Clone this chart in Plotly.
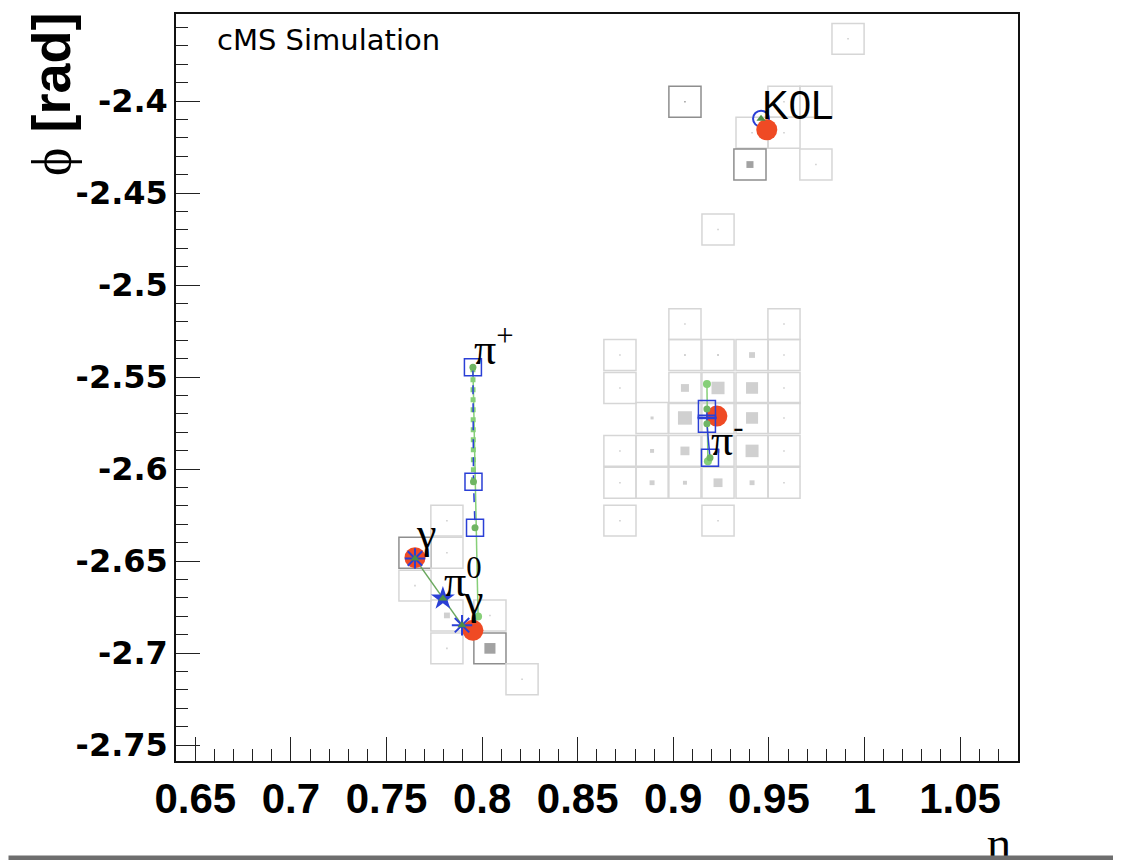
import plotly.graph_objects as go

# ---------------- data ----------------
# axis ranges / ticks
x_range = [0.6399, 1.0803]
y_range = [-2.7586, -2.3527]
x_tickvals = [0.65, 0.70, 0.75, 0.80, 0.85, 0.90, 0.95, 1.00, 1.05]
x_ticktext = ["0.65", "0.7", "0.75", "0.8", "0.85", "0.9", "0.95", "1", "1.05"]
y_tickvals = [-2.75, -2.70, -2.65, -2.60, -2.55, -2.50, -2.45, -2.40]
y_ticktext = ["-2.75", "-2.7", "-2.65", "-2.6", "-2.55", "-2.5", "-2.45", "-2.4"]

# calorimeter cells: eta, phi, energy (arb.), layer (E = ECAL, H = other layer)
cell_eta = [0.9914, 0.9061, 0.9579, 0.9746, 0.9412, 0.9579, 0.9401, 0.9746, 0.9234,
            0.9061, 0.9579,
            0.8721, 0.9061, 0.9234, 0.9412, 0.9579,
            0.8721, 0.9061, 0.9234, 0.9412, 0.9579,
            0.8889, 0.9061, 0.9234, 0.9412, 0.9579,
            0.8721, 0.8889, 0.9061, 0.9234, 0.9412, 0.9579,
            0.8721, 0.8889, 0.9061, 0.9234, 0.9412, 0.9579,
            0.8721, 0.9234,
            0.7816, 0.7649, 0.7816, 0.7649, 0.7816, 0.8041, 0.7816, 0.8041, 0.8209]
cell_phi = [-2.3662, -2.4004, -2.4004, -2.4004, -2.4172, -2.4172, -2.4345, -2.4345, -2.4698,
            -2.5212, -2.5212,
            -2.5380, -2.5380, -2.5380, -2.5380, -2.5380,
            -2.5559, -2.5559, -2.5559, -2.5559, -2.5559,
            -2.5722, -2.5722, -2.5722, -2.5722, -2.5722,
            -2.5901, -2.5901, -2.5901, -2.5901, -2.5901, -2.5901,
            -2.6074, -2.6074, -2.6074, -2.6074, -2.6074, -2.6074,
            -2.6280, -2.6280,
            -2.6280, -2.6454, -2.6454, -2.6633, -2.6795, -2.6795, -2.6974, -2.6974, -2.7142]
cell_e = [0.06, 0.06, 0.06, 0.03, 0.06, 0.06, 0.44, 0.06, 0.06,
          0.06, 0.06,
          0.06, 0.12, 0.12, 0.37, 0.06,
          0.06, 0.50, 0.81, 0.75, 0.06,
          0.19, 0.87, 0.75, 0.75, 0.06,
          0.06, 0.25, 0.56, 0.25, 0.81, 0.06,
          0.06, 0.31, 0.25, 0.56, 0.31, 0.06,
          0.06, 0.06,
          0.06, 0.06, 0.06, 0.06, 0.37, 0.06, 0.03, 0.69, 0.03]
cell_layer = ["E", "H", "E", "E", "E", "E", "H", "E", "E",
              "E", "E",
              "E", "E", "E", "E", "E",
              "E", "E", "E", "E", "E",
              "E", "E", "E", "E", "E",
              "E", "E", "E", "E", "E", "E",
              "E", "E", "E", "E", "E", "E",
              "E", "E",
              "E", "H", "E", "E", "E", "E", "E", "H", "E"]

# pi+ track (reconstructed points) and simulated trajectory
pip_eta = [0.7952, 0.7955, 0.7963]
pip_phi = [-2.5446, -2.6069, -2.6318]
pip_sim_eta = [0.7952, 0.7979]
pip_sim_phi = [-2.5446, -2.6801]

# pi- track
pim_eta = [0.9176, 0.9176, 0.9192]
pim_phi = [-2.5673, -2.5754, -2.5938]
pim_sim_eta = [0.9176, 0.9181]
pim_sim_phi = [-2.5538, -2.5957]
pim_bar_eta = [0.9127, 0.9227]
pim_bar_phi = [-2.5722, -2.5722]

# clusters (red)
clus_eta = [0.7649, 0.7952, 0.9228, 0.9489]
clus_phi = [-2.6481, -2.6876, -2.5712, -2.4156]

# pi0 -> gamma gamma
gam_eta = [0.7649, 0.7895]
gam_phi = [-2.6486, -2.6848]
pi0_eta = [0.7795]
pi0_phi = [-2.6703]

# K0L
k0l_eta = [0.9459]
k0l_phi = [-2.4096]

# particle labels
label_text = ["K0L", "π<sup>+</sup>", "γ", "π<sup>0</sup>", "γ", "π<sup>-</sup>"]
label_eta = [k0l_eta[0], pip_eta[0], gam_eta[0], pi0_eta[0], gam_eta[1], pim_eta[2]]
label_phi = [k0l_phi[0], pip_phi[0], gam_phi[0], pi0_phi[0], gam_phi[1], pim_phi[2]]

# ---------------- styles ----------------
CELL = 0.0168
E_FULL = 2.0
BLUE = "#2a3fd6"
RED = "#ef4a24"
GREEN_L = "#86cf78"
GREEN_D = "#4e8f45"

# page body has an 8px margin: figure is drawn 8px in from the window corner
W, H = 1113, 852

fig = go.Figure()

shapes = []
for eta, phi, e, lay in zip(cell_eta, cell_phi, cell_e, cell_layer):
    h = CELL / 2
    lc = "#8e8e8e" if lay == "H" else "#d6d6d6"
    fc = "#a2a2a2" if lay == "H" else "#d0d0d0"
    shapes.append(dict(type="rect", xref="x", yref="y", x0=eta - h, x1=eta + h,
                       y0=phi - h, y1=phi + h, line=dict(color=lc, width=1.5),
                       fillcolor="rgba(0,0,0,0)", layer="below"))
    s = CELL * min(e / E_FULL, 0.9) / 2
    s = max(s, CELL * 0.025)
    shapes.append(dict(type="rect", xref="x", yref="y", x0=eta - s, x1=eta + s,
                       y0=phi - s, y1=phi + s, line=dict(width=0),
                       fillcolor=fc, layer="below"))

# simulated trajectories (green)
fig.add_trace(go.Scatter(x=pip_sim_eta, y=pip_sim_phi, mode="lines",
                         line=dict(color=GREEN_L, width=1.5), hoverinfo="skip"))
fig.add_trace(go.Scatter(x=pip_eta[:2], y=pip_phi[:2], mode="lines",
                         line=dict(color=GREEN_L, width=5, dash="dot"), hoverinfo="skip"))
fig.add_trace(go.Scatter(x=pim_sim_eta, y=pim_sim_phi, mode="lines+markers",
                         line=dict(color=GREEN_L, width=1.5),
                         marker=dict(color=GREEN_L, size=8), hoverinfo="skip"))
fig.add_trace(go.Scatter(x=gam_eta[:1] + pi0_eta + gam_eta[1:], y=gam_phi[:1] + pi0_phi + gam_phi[1:],
                         mode="lines", line=dict(color="#6aa85e", width=1.5), hoverinfo="skip"))
fig.add_trace(go.Scatter(x=[pip_sim_eta[1]], y=[pip_sim_phi[1]], mode="markers",
                         marker=dict(color=GREEN_L, size=8), hoverinfo="skip"))

# K0L blue circle
fig.add_trace(go.Scatter(x=k0l_eta, y=k0l_phi, mode="markers",
                         marker=dict(symbol="circle-open", size=16, color=BLUE,
                                     line=dict(width=2)), hoverinfo="skip"))
# clusters (red)
fig.add_trace(go.Scatter(x=clus_eta, y=clus_phi, mode="markers",
                         marker=dict(symbol="circle", size=21, color=RED), hoverinfo="skip"))

# reconstructed tracks (blue)
fig.add_trace(go.Scatter(x=pip_eta, y=pip_phi, mode="lines+markers",
                         line=dict(color=BLUE, width=1.5, dash="dash"),
                         marker=dict(symbol="square-open", size=17, color=BLUE,
                                     line=dict(width=1.5)), hoverinfo="skip"))
fig.add_trace(go.Scatter(x=pim_eta, y=pim_phi, mode="lines+markers",
                         line=dict(color=BLUE, width=1.5),
                         marker=dict(symbol="square-open", size=17, color=BLUE,
                                     line=dict(width=1.5)), hoverinfo="skip"))
fig.add_trace(go.Scatter(x=pim_bar_eta, y=pim_bar_phi, mode="lines",
                         line=dict(color=BLUE, width=2.5), hoverinfo="skip"))

# gammas and pi0 (blue stars)
fig.add_trace(go.Scatter(x=gam_eta, y=gam_phi, mode="markers",
                         marker=dict(symbol="asterisk-open", size=17, color=BLUE,
                                     line=dict(width=2, color=BLUE)), hoverinfo="skip"))
fig.add_trace(go.Scatter(x=pi0_eta, y=pi0_phi, mode="markers",
                         marker=dict(symbol="star", size=18, color=BLUE), hoverinfo="skip"))

# green sim markers at track / particle points
fig.add_trace(go.Scatter(x=pip_eta + pim_eta, y=pip_phi + pim_phi, mode="markers",
                         marker=dict(symbol="circle", size=7, color="#6fb563"), hoverinfo="skip"))
fig.add_trace(go.Scatter(x=gam_eta + pi0_eta + k0l_eta, y=gam_phi + pi0_phi + k0l_phi, mode="markers",
                         marker=dict(symbol="triangle-up", size=8, color=GREEN_D), hoverinfo="skip"))

annotations = []
for txt, ex, ph in zip(label_text, label_eta, label_phi):
    if txt == "K0L":
        fnt = dict(family="Liberation Sans", size=40, color="black")
        ys = -9
    else:
        fnt = dict(family="Liberation Serif", size=44, color="black")
        ys = -8 if txt.startswith("π") else 0
    annotations.append(dict(x=ex, y=ph, xref="x", yref="y", text=txt, showarrow=False,
                            xanchor="left", yanchor="bottom", font=fnt, yshift=ys,
                            borderpad=0))

# CMS Simulation label
annotations.append(dict(x=0.046, y=0.991, xref="paper", yref="paper", text="cMS Simulation",
                        showarrow=False, xanchor="left", yanchor="top",
                        font=dict(family="DejaVu Sans", size=29, color="black")))
# y axis title
annotations.append(dict(x=-0.148, y=1.004, xref="paper", yref="paper",
                        text='<span style="font-family:Liberation Serif;font-weight:normal">ϕ</span> <b>[rad]</b>',
                        textangle=-90, showarrow=False, xanchor="center", yanchor="top",
                        font=dict(family="Liberation Sans", size=54, color="black")))
# x axis title
annotations.append(dict(x=0.978, y=-0.073, xref="paper", yref="paper", text="η",
                        showarrow=False, xanchor="center", yanchor="top",
                        font=dict(family="Liberation Serif", size=46, color="black")))
# bottom grey bar
annotations.append(dict(x=-0.2, y=-0.1255, xref="paper", yref="paper", text=" ",
                        showarrow=False, xanchor="left", yanchor="top", width=1110, height=5,
                        bgcolor="#6e6e6e", borderpad=0, font=dict(size=2)))

axis_common = dict(showgrid=False, zeroline=False, showline=True, linecolor="#111",
                   linewidth=1.5, mirror=True, ticks="inside", ticklen=24, tickwidth=1.2,
                   tickcolor="#222", tickmode="array")

fig.update_layout(
    width=W, height=H,
    margin=dict(l=168, r=103, t=4, b=99),
    paper_bgcolor="white", plot_bgcolor="white",
    showlegend=False,
    shapes=shapes,
    annotations=annotations,
    xaxis=dict(range=x_range, tickvals=x_tickvals, ticktext=x_ticktext,
               tickfont=dict(family="Liberation Sans", size=42, color="black", weight="bold"),
               minor=dict(tickmode="linear", tick0=0.65, dtick=0.01, ticks="inside",
                          ticklen=12, tickwidth=1.2, tickcolor="#222"),
               **axis_common),
    yaxis=dict(range=y_range, tickvals=y_tickvals, ticktext=y_ticktext,
               tickfont=dict(family="DejaVu Sans", size=32, color="black", weight="bold"),
               ticklabelstandoff=0,
               minor=dict(tickmode="linear", tick0=-2.75, dtick=0.01, ticks="inside",
                          ticklen=12, tickwidth=1.2, tickcolor="#222"),
               **axis_common),
)

fig.write_html("out.html")
